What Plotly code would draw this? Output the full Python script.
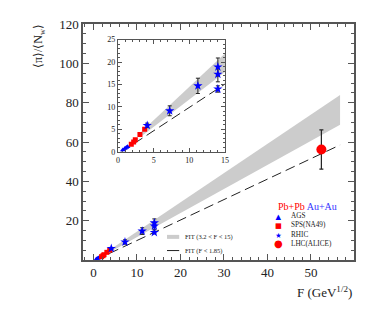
import plotly.graph_objects as go

# ---- data ----
ags_F = [0.68, 0.97, 1.17, 1.35]
ags_pi = [0.45, 0.75, 0.98, 1.17]
sps_F = [1.87, 2.20, 2.43, 3.08, 3.74]
sps_pi = [1.70, 2.20, 2.70, 3.90, 5.05]
rhic_F = [4.10, 7.25, 11.2, 14.0, 14.0, 14.0]
rhic_pi = [5.90, 9.15, 14.7, 18.9, 17.3, 14.0]
rhic_err = [0.5, 1.1, 1.7, 2.0, 1.7, 0.7]
lhc_F = [52.4]
lhc_pi = [56.2]
lhc_err = [10.0]
band_F = [3.2, 56.7]
band_low = [3.36, 68.8]
band_high = [4.36, 83.9]
dash_F = [0.5, 56.7]
dash_pi = [0.02, 58.5]

main_xticks = [0, 10, 20, 30, 40, 50]
main_yticks = [20, 40, 60, 80, 100, 120]
inset_xticks = [0, 5, 10, 15]
inset_yticks = [0, 5, 10, 15, 20, 25]

legend_labels = ["AGS", "SPS(NA49)", "RHIC", "LHC(ALICE)"]

BLUE = "#0000ff"
RED = "#ff0000"
GRAY = "#cccccc"
FONT = "Liberation Serif"

fig = go.Figure()


def add_set(xa, ya, star_size, circ_size, tri_size, sq_size):
    fig.add_trace(go.Scatter(x=band_F + band_F[::-1], y=band_high + band_low[::-1],
                             fill="toself", fillcolor=GRAY, line=dict(width=0),
                             mode="lines", xaxis=xa, yaxis=ya, showlegend=False,
                             hoverinfo="skip"))
    fig.add_trace(go.Scatter(x=dash_F, y=dash_pi, mode="lines",
                             line=dict(color="#222222", width=1, dash="10px,5px"),
                             xaxis=xa, yaxis=ya, showlegend=False))
    fig.add_trace(go.Scatter(x=ags_F, y=ags_pi, mode="markers",
                             marker=dict(symbol="triangle-up", color=BLUE, size=tri_size),
                             xaxis=xa, yaxis=ya, showlegend=False))
    fig.add_trace(go.Scatter(x=sps_F, y=sps_pi, mode="markers",
                             marker=dict(symbol="square", color=RED, size=sq_size),
                             xaxis=xa, yaxis=ya, showlegend=False))
    fig.add_trace(go.Scatter(x=rhic_F, y=rhic_pi, mode="markers",
                             error_y=dict(type="data", array=rhic_err, color="#222222",
                                          thickness=1, width=2),
                             marker=dict(symbol="star", color=BLUE, size=star_size),
                             xaxis=xa, yaxis=ya, showlegend=False))
    fig.add_trace(go.Scatter(x=lhc_F, y=lhc_pi, mode="markers",
                             error_y=dict(type="data", array=lhc_err, color="#222222",
                                          thickness=1.2, width=2),
                             marker=dict(symbol="circle", color=RED, size=circ_size),
                             xaxis=xa, yaxis=ya, showlegend=False))


add_set("x", "y", 7, 10, 5, 5)
add_set("x2", "y2", 7, 10, 5, 5)

axis_common = dict(ticks="inside", showline=True, linecolor="#555555", mirror="allticks",
                   showgrid=False, zeroline=False, tickcolor="#555555")

fig.update_layout(
    width=374, height=316,
    margin=dict(l=75, r=28, t=9, b=64),
    plot_bgcolor="white", paper_bgcolor="white",
    font=dict(family=FONT, color="#222222"),
    showlegend=False,
    xaxis=dict(range=[-2.4, 59.9], tickvals=main_xticks, ticklen=6, linewidth=1.5,
               tickfont=dict(size=13), minor=dict(dtick=2, tick0=0, ticklen=3, ticks="inside",
                                                  tickcolor="#555555"),
               domain=[0, 1], **axis_common),
    yaxis=dict(range=[0, 120], tickvals=main_yticks, ticklen=6, linewidth=1.5,
               tickfont=dict(size=13), minor=dict(dtick=5, tick0=0, ticklen=3, ticks="inside",
                                                  tickcolor="#555555"),
               domain=[0, 1], **axis_common),
    xaxis2=dict(range=[0, 15], tickvals=inset_xticks, ticklen=4, linewidth=1.2,
                tickfont=dict(size=8), minor=dict(dtick=1, tick0=0, ticklen=2, ticks="inside",
                                                  tickcolor="#555555"),
                domain=[0.129, 0.524], anchor="y2", **axis_common),
    yaxis2=dict(range=[0, 25], tickvals=inset_yticks, ticklen=4, linewidth=1.2,
                tickfont=dict(size=8), minor=dict(dtick=1, tick0=0, ticklen=2, ticks="inside",
                                                  tickcolor="#555555"),
                domain=[0.458, 0.934], anchor="x2", **axis_common),
)

# inset background
fig.add_shape(type="rect", xref="x2 domain", yref="y2 domain", x0=0, x1=1, y0=0, y1=1,
              fillcolor="white", line=dict(width=0), layer="below")

# axis titles
fig.add_annotation(text="⟨π⟩/⟨N<sub>w</sub>⟩", textangle=-90, xref="paper", yref="paper",
                   x=-0.16, y=0.905, xanchor="center", yanchor="middle", showarrow=False,
                   font=dict(size=12))
fig.add_annotation(text="F (GeV<sup>1/2</sup>)", xref="paper", yref="paper",
                   x=1.0, y=-0.135, xanchor="right", yanchor="middle", showarrow=False,
                   font=dict(size=13))

# legend (markers)
fig.add_annotation(text="<span style='color:#ff0000'>Pb+Pb</span> <span style='color:#3333ff'>Au+Au</span>",
                   xref="paper", yref="paper", x=0.711, y=0.226, xanchor="left", yanchor="middle",
                   showarrow=False, font=dict(size=10))
glyphs = ("<span style='color:#0000ff'>▲</span><br>"
          "<span style='color:#ff0000'>■</span><br>"
          "<span style='color:#0000ff'>★</span><br>"
          "<span style='color:#ff0000;font-size:10px'>●</span>")
fig.add_annotation(text=glyphs, xref="paper", yref="paper", x=0.72, y=0.126,
                   xanchor="center", yanchor="middle", showarrow=False, borderpad=0,
                   align="center", font=dict(size=7.2, family="DejaVu Sans"))
fig.add_annotation(text="<br>".join(legend_labels), xref="paper", yref="paper", x=0.765, y=0.126,
                   xanchor="left", yanchor="middle", showarrow=False, borderpad=0,
                   align="left", font=dict(size=7.2))

# legend (fits)
fig.add_shape(type="line", xref="paper", yref="paper", x0=0.31, x1=0.355, y0=0.098, y1=0.098,
              line=dict(color=GRAY, width=4))
fig.add_shape(type="line", xref="paper", yref="paper", x0=0.31, x1=0.355, y0=0.040, y1=0.040,
              line=dict(color="#222222", width=1))
fig.add_annotation(text="FIT (3.2 < F < 15)", xref="paper", yref="paper", x=0.37, y=0.098,
                   xanchor="left", yanchor="middle", showarrow=False, font=dict(size=6.5))
fig.add_annotation(text="FIT (F < 1.85)", xref="paper", yref="paper", x=0.37, y=0.040,
                   xanchor="left", yanchor="middle", showarrow=False, font=dict(size=6.5))

fig.write_html("out.html")
